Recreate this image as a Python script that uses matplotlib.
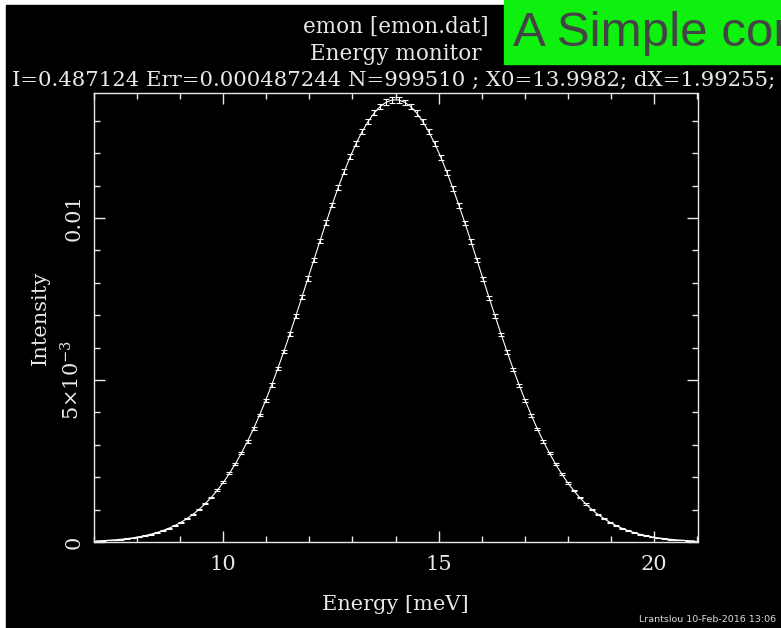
import matplotlib
matplotlib.use('Agg')
import matplotlib.pyplot as plt
from matplotlib.ticker import FixedLocator, MultipleLocator

# bin centres [meV]
energy = [7.07, 7.21, 7.35, 7.49, 7.63, 7.77, 7.91, 8.05, 8.19, 8.33,
          8.47, 8.61, 8.75, 8.89, 9.03, 9.17, 9.31, 9.45, 9.59, 9.73,
          9.87, 10.01, 10.15, 10.29, 10.43, 10.57, 10.71, 10.85, 10.99, 11.13,
          11.27, 11.41, 11.55, 11.69, 11.83, 11.97, 12.11, 12.25, 12.39, 12.53,
          12.67, 12.81, 12.95, 13.09, 13.23, 13.37, 13.51, 13.65, 13.79, 13.93,
          14.07, 14.21, 14.35, 14.49, 14.63, 14.77, 14.91, 15.05, 15.19, 15.33,
          15.47, 15.61, 15.75, 15.89, 16.03, 16.17, 16.31, 16.45, 16.59, 16.73,
          16.87, 17.01, 17.15, 17.29, 17.43, 17.57, 17.71, 17.85, 17.99, 18.13,
          18.27, 18.41, 18.55, 18.69, 18.83, 18.97, 19.11, 19.25, 19.39, 19.53,
          19.67, 19.81, 19.95, 20.09, 20.23, 20.37, 20.51, 20.65, 20.79, 20.93]

# intensity per bin, in units of 1e-3
intensity_e3 = [0.032, 0.041, 0.052, 0.066, 0.083, 0.103, 0.128, 0.159, 0.195, 0.239,
                0.291, 0.353, 0.426, 0.511, 0.610, 0.725, 0.858, 1.009, 1.182, 1.377,
                1.597, 1.842, 2.116, 2.417, 2.748, 3.108, 3.499, 3.920, 4.369, 4.846,
                5.349, 5.874, 6.419, 6.981, 7.555, 8.134, 8.715, 9.293, 9.859, 10.408,
                10.935, 11.431, 11.890, 12.308, 12.677, 12.992, 13.251, 13.447, 13.580, 13.646,
                13.645, 13.577, 13.443, 13.244, 12.984, 12.667, 12.296, 11.878, 11.417, 10.920,
                10.393, 9.843, 9.277, 8.699, 8.118, 7.538, 6.965, 6.403, 5.859, 5.334,
                4.832, 4.356, 3.907, 3.488, 3.097, 2.738, 2.408, 2.107, 1.835, 1.590,
                1.371, 1.176, 1.004, 0.854, 0.722, 0.607, 0.508, 0.423, 0.351, 0.289,
                0.237, 0.194, 0.158, 0.128, 0.103, 0.082, 0.065, 0.052, 0.041, 0.032]

# error per bin, in units of 1e-3
error_e3 = [0.0040, 0.0045, 0.0050, 0.0057, 0.0063, 0.0071, 0.0079, 0.0088, 0.0097, 0.0108,
            0.0119, 0.0131, 0.0144, 0.0158, 0.0172, 0.0188, 0.0204, 0.0222, 0.0240, 0.0259,
            0.0279, 0.0300, 0.0321, 0.0343, 0.0366, 0.0389, 0.0413, 0.0437, 0.0461, 0.0486,
            0.0510, 0.0535, 0.0559, 0.0583, 0.0607, 0.0630, 0.0652, 0.0673, 0.0693, 0.0712,
            0.0730, 0.0746, 0.0761, 0.0774, 0.0786, 0.0796, 0.0803, 0.0809, 0.0813, 0.0815,
            0.0815, 0.0813, 0.0809, 0.0803, 0.0796, 0.0786, 0.0774, 0.0761, 0.0746, 0.0730,
            0.0712, 0.0693, 0.0673, 0.0652, 0.0630, 0.0607, 0.0583, 0.0559, 0.0535, 0.0510,
            0.0486, 0.0461, 0.0437, 0.0413, 0.0389, 0.0366, 0.0343, 0.0321, 0.0300, 0.0279,
            0.0259, 0.0240, 0.0222, 0.0204, 0.0188, 0.0172, 0.0158, 0.0144, 0.0131, 0.0119,
            0.0108, 0.0097, 0.0088, 0.0079, 0.0071, 0.0063, 0.0057, 0.0050, 0.0045, 0.0040]

x_major = [10, 15, 20]
y_major = [0, 0.005, 0.01]
y_labels = ['0', r'$5{\times}10^{-3}$', '0.01']

title_lines = ['emon [emon.dat]', 'Energy monitor']
stats_line = 'I=0.487124 Err=0.000487244 N=999510 ; X0=13.9982; dX=1.99255;'
banner = 'A Simple cor'
stamp = 'Lrantslou 10-Feb-2016 13:06'

W, H = 781, 628
SERIF = 'DejaVu Serif'
FG = '#e8e8e8'


def main():
    plt.rcParams['mathtext.fontset'] = 'dejavuserif'
    fig = plt.figure(figsize=(W / 100, H / 100), dpi=100, facecolor='white')

    # black canvas, leaving a thin white strip on the left and top
    fig.add_artist(plt.Rectangle((6 / W, 0), 1, 1 - 5 / H, transform=fig.transFigure,
                                 color='black', zorder=-10))

    ax = fig.add_axes([93.5 / W, 1 - 542 / H, 604 / W, 449 / H])
    ax.set_facecolor('black')

    y = [v * 1e-3 for v in intensity_e3]
    yerr = [v * 1e-3 for v in error_e3]
    ax.errorbar(energy, y, yerr=yerr, color='white', lw=0.8, elinewidth=0.8,
                capsize=2.2, capthick=0.8)

    ax.set_xlim(7, 21)
    ax.set_ylim(0, 0.01386)

    for s in ax.spines.values():
        s.set_color(FG)
        s.set_linewidth(1)

    ax.xaxis.set_major_locator(FixedLocator(x_major))
    ax.xaxis.set_minor_locator(MultipleLocator(1))
    ax.yaxis.set_major_locator(FixedLocator(y_major))
    ax.yaxis.set_minor_locator(MultipleLocator(0.001))
    ax.set_yticklabels(y_labels)

    ax.tick_params(which='both', direction='in', top=True, right=True, color=FG,
                   labelcolor=FG, labelsize=15, width=1)
    ax.tick_params(which='major', length=8)
    ax.tick_params(which='minor', length=4.3)
    ax.tick_params(axis='x', which='major', pad=9)
    ax.tick_params(axis='y', which='major', pad=7)
    for lbl in ax.get_xticklabels() + ax.get_yticklabels():
        lbl.set_family(SERIF)
    for lbl in ax.get_yticklabels():
        lbl.set_rotation(90)
        lbl.set_va('center')

    ax.set_xlabel('Energy [meV]', family=SERIF, fontsize=15, color=FG)
    ax.xaxis.set_label_coords(0.5, -0.118)
    ax.set_ylabel('Intensity', family=SERIF, fontsize=15, color=FG, va='center')
    ax.yaxis.set_label_coords(-0.0886, 0.5)

    # header text
    cx = 395.5 / W
    fig.text(cx, 1 - 33 / H, title_lines[0], ha='center', va='baseline',
             family=SERIF, fontsize=15.5, color=FG)
    fig.text(cx, 1 - 60 / H, title_lines[1], ha='center', va='baseline',
             family=SERIF, fontsize=15.5, color=FG)
    fig.text(12 / W, 1 - 86 / H, stats_line, ha='left', va='baseline',
             family=SERIF, fontsize=15.3, color=FG)

    # green banner in the top right corner, text runs off the edge like the original
    fig.add_artist(plt.Rectangle((504 / W, 1 - 64 / H), 1, 64 / H,
                                 transform=fig.transFigure, color='#0ef00e', zorder=5))
    fig.text(513 / W, 1 - 46 / H, banner, ha='left', va='baseline',
             family='Liberation Sans', fontsize=35.5, color='#444444', zorder=6)

    fig.text(639 / W, 1 - 622 / H, stamp, ha='left', va='baseline',
             family='DejaVu Sans', fontsize=6.8, color='#dddddd')

    fig.savefig('out.png', dpi=100, facecolor=fig.get_facecolor())


if __name__ == '__main__':
    main()
